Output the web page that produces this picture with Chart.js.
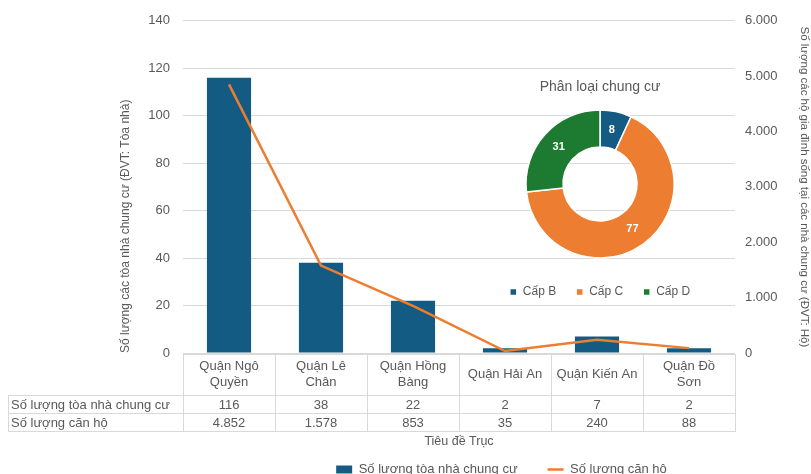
<!DOCTYPE html>
<html>
<head>
<meta charset="utf-8">
<script src="https://cdn.jsdelivr.net/npm/chart.js@4/dist/chart.umd.min.js"></script>
<style>
  html, body { margin: 0; padding: 0; background: #fff; overflow: hidden; }
  #wrap { position: relative; width: 811px; height: 474px; overflow: hidden; }
  #mainBox { position: absolute; left: 0; top: 0; width: 811px; height: 486px; }
  #pieBox { position: absolute; left: 480px; top: 75px; width: 240px; height: 233px; }
</style>
</head>
<body>
<div id="wrap">
  <div id="mainBox"><canvas id="mainChart"></canvas></div>
  <div id="pieBox"><canvas id="pieChart"></canvas></div>
</div>
<script>
// data
const districts = [["Quận Ngô", "Quyền"], ["Quận Lê", "Chân"], ["Quận Hồng", "Bàng"], ["Quận Hải An"], ["Quận Kiến An"], ["Quận Đồ", "Sơn"]];
const buildings = [116, 38, 22, 2, 7, 2];
const apartments = [4852, 1578, 853, 35, 240, 88];
const leftTicks = [0, 20, 40, 60, 80, 100, 120, 140];
const rightTicks = [0, 1000, 2000, 3000, 4000, 5000, 6000];

const gradeLabels = ["Cấp B", "Cấp C", "Cấp D"];
const gradeValues = [8, 77, 31];

const BLUE = "#145b83";
const ORANGE = "#ed7d31";
const GREEN = "#1c7a31";
const TEXT = "#595959";
const GRID = "#d9d9d9";
const FONT = "'Liberation Sans', Arial, sans-serif";

Chart.defaults.font.family = FONT;
Chart.defaults.color = TEXT;

function dots(n) {
    return String(n).replace(/\B(?=(\d{3})+(?!\d))/g, ".");
}

// excel-like data table under the plot
const dataTable = {
    id: "dataTable",
    afterDraw(chart) {
        const ctx = chart.ctx;
        const x = chart.scales.x;
        const area = chart.chartArea;
        const n = districts.length;
        const colW = area.width / n;
        const top = area.bottom + 1;
        const headH = 41, rowH = 18;
        const labelLeft = 8;
        ctx.save();
        ctx.strokeStyle = GRID;
        ctx.lineWidth = 1;
        ctx.fillStyle = TEXT;
        ctx.font = "13px " + FONT;
        ctx.textAlign = "center";
        ctx.textBaseline = "middle";

        // header cells
        for (let i = 0; i < n; i++) {
            const l = area.left + i * colW;
            ctx.strokeRect(Math.round(l) + 0.5, top + 0.5, Math.round(colW), headH);
            const lines = districts[i];
            const cx = x.getPixelForValue(i);
            const cy = top + headH / 2;
            lines.forEach((t, k) => {
                ctx.fillText(t, cx, cy + (k - (lines.length - 1) / 2) * 16);
            });
        }
        // value rows
        const rows = [["Số lượng tòa nhà chung cư", buildings], ["Số lượng căn hộ", apartments]];
        rows.forEach((r, k) => {
            const y = top + headH + k * rowH;
            ctx.strokeRect(labelLeft + 0.5, y + 0.5, Math.round(area.left - labelLeft), rowH);
            ctx.textAlign = "left";
            ctx.fillText(r[0], labelLeft + 3, y + rowH / 2 + 1);
            ctx.textAlign = "center";
            for (let i = 0; i < n; i++) {
                const l = area.left + i * colW;
                ctx.strokeRect(Math.round(l) + 0.5, y + 0.5, Math.round(colW), rowH);
                ctx.fillText(dots(r[1][i]), x.getPixelForValue(i), y + rowH / 2 + 1);
            }
        });
        ctx.restore();
    }
};

// nudge the bottom legend to the right, like in the excel chart
const legendShift = {
    id: "legendShift",
    afterLayout(chart) {
        chart.legend.left += 40;
        chart.legend.right += 40;
    }
};

new Chart(document.getElementById("mainChart"), {
    type: "bar",
    data: {
        labels: districts.map(d => d.join(" ")),
        datasets: [
            {
                type: "line",
                label: "Số lượng căn hộ",
                data: apartments,
                yAxisID: "y1",
                borderColor: ORANGE,
                backgroundColor: ORANGE,
                borderWidth: 2.5,
                pointRadius: 0,
                tension: 0,
                order: 0
            },
            {
                type: "bar",
                label: "Số lượng tòa nhà chung cư",
                data: buildings,
                yAxisID: "y",
                backgroundColor: BLUE,
                categoryPercentage: 1,
                barPercentage: 0.48,
                order: 1
            }
        ]
    },
    options: {
        responsive: true,
        maintainAspectRatio: false,
        animation: false,
        layout: { padding: { left: 112, right: 0, top: 10, bottom: 0 } },
        plugins: {
            tooltip: { enabled: false },
            legend: {
                position: "bottom",
                labels: {
                    font: { size: 13 },
                    color: TEXT,
                    usePointStyle: true,
                    pointStyleWidth: 16,
                    boxHeight: 8,
                    padding: 30,
                    generateLabels(chart) {
                        return chart.data.datasets.map((ds, i) => ({
                            text: ds.label,
                            datasetIndex: i,
                            fillStyle: ds.backgroundColor,
                            strokeStyle: ds.type === "line" ? ORANGE : BLUE,
                            lineWidth: ds.type === "line" ? 2.5 : 0,
                            pointStyle: ds.type === "line" ? "line" : "rect",
                            fontColor: TEXT
                        })).reverse();
                    }
                }
            }
        },
        scales: {
            x: {
                grid: { display: false },
                border: { display: false },
                ticks: { display: false },
                title: {
                    display: true,
                    text: "Tiêu đề Trục",
                    color: TEXT,
                    font: { size: 12.5 },
                    padding: { top: 0, bottom: -16 }
                },
                afterFit(scale) { scale.height = 80; }
            },
            y: {
                position: "left",
                min: 0,
                max: 140,
                afterBuildTicks(scale) { scale.ticks = leftTicks.map(v => ({ value: v })); },
                grid: { color: GRID, drawTicks: false },
                border: { display: false },
                ticks: { padding: 13, font: { size: 13 }, color: TEXT },
                title: {
                    display: true,
                    align: "start",
                    text: "Số lượng các tòa nhà chung cư (ĐVT: Tòa nhà)",
                    color: TEXT,
                    font: { size: 12 },
                    padding: { top: 6, bottom: 0 }
                },
                afterFit(scale) { scale.width = 71; }
            },
            y1: {
                position: "right",
                min: 0,
                max: 6000,
                afterBuildTicks(scale) { scale.ticks = rightTicks.map(v => ({ value: v })); },
                grid: { display: false, drawTicks: false },
                border: { display: false },
                ticks: { padding: 10, font: { size: 13 }, color: TEXT, callback: v => dots(v) },
                title: {
                    display: true,
                    text: "Số lượng các hộ gia đình sống tại các nhà chung cư (ĐVT: Hộ)",
                    color: TEXT,
                    font: { size: 11.5 },
                    padding: { top: 0, bottom: 0 }
                },
                afterFit(scale) { scale.width = 76; }
            }
        }
    },
    plugins: [dataTable, legendShift]
});

// numbers inside the doughnut slices
const sliceLabels = {
    id: "sliceLabels",
    afterDatasetsDraw(chart) {
        const ctx = chart.ctx;
        const meta = chart.getDatasetMeta(0);
        ctx.save();
        ctx.fillStyle = "#fff";
        ctx.font = "bold 11px " + FONT;
        ctx.textAlign = "center";
        ctx.textBaseline = "middle";
        meta.data.forEach((arc, i) => {
            const p = arc.tooltipPosition();
            ctx.fillText(gradeValues[i], p.x, p.y);
        });
        ctx.restore();
    }
};

new Chart(document.getElementById("pieChart"), {
    type: "doughnut",
    data: {
        labels: gradeLabels,
        datasets: [{
            data: gradeValues,
            backgroundColor: [BLUE, ORANGE, GREEN],
            borderColor: "#fff",
            borderWidth: 1.5
        }]
    },
    options: {
        responsive: true,
        maintainAspectRatio: false,
        animation: false,
        cutout: "50%",
        radius: 74,
        plugins: {
            tooltip: { enabled: false },
            title: {
                display: true,
                text: "Phân loại chung cư",
                color: TEXT,
                font: { size: 14, weight: "normal" },
                padding: { top: 4, bottom: 6 }
            },
            legend: {
                position: "bottom",
                labels: {
                    font: { size: 12 },
                    color: TEXT,
                    boxWidth: 7,
                    boxHeight: 7,
                    padding: 20
                }
            }
        }
    },
    plugins: [sliceLabels]
});
</script>
</body>
</html>
